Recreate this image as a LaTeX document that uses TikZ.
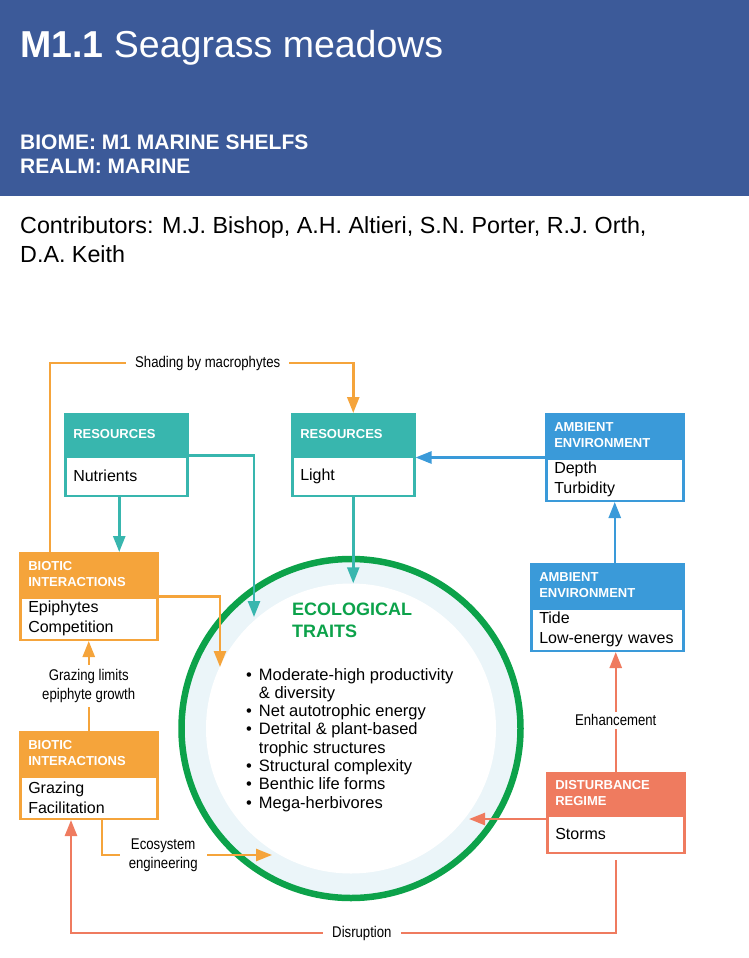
\documentclass[tikz,border=0pt]{standalone}
\usepackage{fontspec}
\setmainfont{Liberation Sans}
\newfontfamily\narrowfont[FakeStretch=0.85]{Liberation Sans}
\usetikzlibrary{arrows.meta,positioning,calc}
\definecolor{titleBlue}{RGB}{60,90,153}
\definecolor{resTeal}{RGB}{56,182,174}
\definecolor{ambBlue}{RGB}{58,154,217}
\definecolor{bioOrange}{RGB}{245,164,59}
\definecolor{distCoral}{RGB}{239,123,95}
\definecolor{ecoGreen}{RGB}{12,162,74}
\definecolor{ringBlue}{RGB}{235,245,249}
\tikzset{
  head/.style={anchor=north west, inner sep=0pt, line width=2.5pt, align=left, text=white,
               font=\bfseries\fontsize{13}{16}\selectfont},
  body/.style={inner sep=0pt, line width=2.5pt, fill=white, align=left,
               font=\fontsize{16}{20}\selectfont},
  reshead/.style={head, draw=resTeal, fill=resTeal},
  resbody/.style={body, draw=resTeal},
  ambhead/.style={head, draw=ambBlue, fill=ambBlue},
  ambbody/.style={body, draw=ambBlue},
  biohead/.style={head, draw=bioOrange, fill=bioOrange},
  biobody/.style={body, draw=bioOrange},
  disthead/.style={head, draw=distCoral, fill=distCoral},
  distbody/.style={body, draw=distCoral},
  link/.style={line width=2.5pt, -{Triangle[length=16pt,width=12pt]}},
  tag/.style={fill=white, text=black, inner xsep=9pt, inner ysep=3pt, align=center,
              font=\narrowfont\fontsize{15.5}{19}\selectfont}
}

\begin{document}
\begin{tikzpicture}[x=1pt, y=-1pt]
\useasboundingbox (0,0) rectangle (749,958);
% title block
\fill[titleBlue] (0,0) rectangle (749,196);
\node[anchor=base west, inner sep=0pt, text=white, font=\fontsize{37.5}{40}\selectfont]
  (title) at (20,57) {\textbf{M1.1} Seagrass meadows};
\node[anchor=base west, inner sep=0pt, text=white, align=left,
      font=\bfseries\fontsize{21}{24}\selectfont]
  (biome) at (20,173) {BIOME: M1 MARINE SHELFS\\REALM: MARINE};
\node[anchor=base west, inner sep=0pt, align=left, font=\fontsize{23.3}{29}\selectfont]
  (contrib) at (20,262) {Contributors: M.J. Bishop, A.H. Altieri, S.N. Porter, R.J. Orth,\\D.A. Keith};

% ecological traits ring
\node[circle, draw=ecoGreen, line width=6.5pt, fill=ringBlue, minimum size=339, inner sep=0pt]
  (ring) at (351,728.5) {};
\node[circle, fill=white, minimum size=290, inner sep=0pt] (core) at (ring) {};
\node[anchor=base west, inner sep=0pt, align=left, text=ecoGreen,
      font=\bfseries\fontsize{18}{22}\selectfont] (ecoT) at (292,637) {ECOLOGICAL\\TRAITS};
\node[anchor=base west, inner sep=0pt, font=\fontsize{16.5}{18.3}\selectfont] (traits) at (246,680)
  {\begin{tabular}[t]{@{}l@{\hspace{7pt}}l@{}}
   \textbullet & Moderate-high productivity\\
               & \& diversity\\
   \textbullet & Net autotrophic energy\\
   \textbullet & Detrital \& plant-based\\
               & trophic structures\\
   \textbullet & Structural complexity\\
   \textbullet & Benthic life forms\\
   \textbullet & Mega-herbivores
   \end{tabular}};

% boxes
\node[reshead, minimum width=122, minimum height=40, text width=106] (nutrH) at (64,413) {RESOURCES};
\node[resbody, minimum width=122, minimum height=39, text width=106, below=0pt of nutrH] (nutrB) {Nutrients};
\node[reshead, minimum width=122, minimum height=40, text width=106] (lightH) at (291,413) {RESOURCES};
\node[resbody, minimum width=122, minimum height=39, text width=106, below=0pt of lightH] (lightB) {Light};
\node[ambhead, minimum width=137, minimum height=42, text width=121] (amb1H) at (545,413) {AMBIENT\\ENVIRONMENT};
\node[ambbody, minimum width=137, minimum height=42, text width=121, below=0pt of amb1H] (amb1B) {Depth\\Turbidity};
\node[ambhead, minimum width=152, minimum height=42, text width=136] (amb2H) at (530,563) {AMBIENT\\ENVIRONMENT};
\node[ambbody, minimum width=152, minimum height=42, text width=136, below=0pt of amb2H] (amb2B) {Tide\\Low-energy waves};
\node[biohead, minimum width=137, minimum height=42, text width=121] (bio1H) at (19,552) {BIOTIC\\INTERACTIONS};
\node[biobody, minimum width=137, minimum height=42, text width=121, below=0pt of bio1H] (bio1B) {Epiphytes\\Competition};
\node[biohead, minimum width=137, minimum height=42, text width=121] (bio2H) at (19,731) {BIOTIC\\INTERACTIONS};
\node[biobody, minimum width=137, minimum height=42, text width=121, below=0pt of bio2H] (bio2B) {Grazing\\Facilitation};
\node[disthead, minimum width=137, minimum height=40, text width=121] (distH) at (546,772) {DISTURBANCE\\REGIME};
\node[distbody, minimum width=137, minimum height=37, text width=121, below=0pt of distH] (distB) {Storms};

% free ends inside the ring
\coordinate (nutrTip) at (254,617);
\coordinate (bioTip) at (220,667);
\coordinate (engTip) at (272,855);
\coordinate (distTip) at (469,819);
\coordinate (shadeL) at (50,363);
\coordinate (disL) at (71,933);
\coordinate (nutrOut) at ($(nutrB.south)+(-7,0)$);

% connectors
\draw[link, bioOrange] ($(bio1H.north west)+(31,0)$) -- (shadeL)
  -- node[tag, pos=0.52] {Shading by macrophytes} (shadeL -| lightH.north) -- (lightH.north);
\draw[link, resTeal] (nutrB.north east) -| (nutrTip);
\draw[link, resTeal] (nutrOut) -- (nutrOut |- bio1H.north);
\draw[link, resTeal] (lightB.south) -- (lightB.south |- core.north);
\draw[link, ambBlue] (amb1B.north west) -- (amb1B.north west -| lightB.east);
\draw[link, ambBlue] (amb1B.south |- amb2H.north) -- (amb1B.south);
\draw[link, distCoral] (distH.north) -- node[tag, pos=0.43] {Enhancement} (distH.north |- amb2B.south);
\draw[link, distCoral] (distB.west |- distTip) -- (distTip);
\draw[link, distCoral, shorten <=6pt] (distB.south) |- node[tag, pos=0.733] {Disruption} (disL)
  -- (disL |- bio2B.south);
\draw[link, bioOrange] (bio2H.north) -- node[tag, inner ysep=4pt] {Grazing limits\\epiphyte growth} (bio1B.south);
\draw[link, bioOrange] (bio1B.north east) -| (bioTip);
\draw[link, bioOrange] ($(bio2B.south west)+(83,0)$) |- node[tag, pos=0.68] {Ecosystem\\engineering} (engTip);
\end{tikzpicture}
\end{document}
